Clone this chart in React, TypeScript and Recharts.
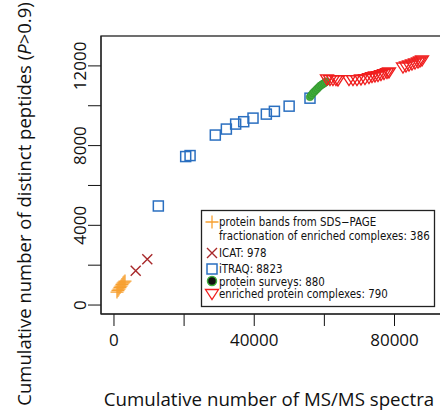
import React from "react";
import { ScatterChart, Scatter, XAxis, YAxis } from "recharts";

// protein bands from SDS-PAGE fractionation of enriched complexes
const bandsX = [860, 1140, 1430, 1710, 2000, 2280, 2570, 2850, 3140];
const bandsY = [650, 730, 800, 880, 950, 1030, 1100, 1150, 1200];

// ICAT
const icatX = [6200, 9500];
const icatY = [1720, 2300];

// iTRAQ
const itraqX = [12650, 20450, 21700, 28900, 32050, 34700, 37000, 39650, 43450, 45750, 49950, 55900];
const itraqY = [4970, 7450, 7500, 8530, 8830, 9080, 9200, 9380, 9580, 9720, 9980, 10380];

// protein surveys
const surveysX = [55890, 56320, 56750, 57180, 57610, 58030, 58460, 58890, 59320, 59750, 60170, 60600];
const surveysY = [10440, 10540, 10640, 10710, 10790, 10860, 10940, 11010, 11060, 11110, 11160, 11220];

// enriched protein complexes
const complexesX = [
  60740, 61600, 62450, 63310, 63880,
  67020, 68160, 69300, 70440, 71580, 72720, 73580, 74430, 75290, 76140, 77000, 77850, 78420,
  82420, 83270, 84130, 84980, 85840, 86700, 87270, 87840,
];
const complexesY = [
  11370, 11340, 11340, 11340, 11320,
  11340, 11340, 11340, 11370, 11390, 11440, 11490, 11520, 11540, 11590, 11640, 11690, 11720,
  11970, 12020, 12070, 12120, 12170, 12220, 12270, 12320,
];

const xTicks = [0, 20000, 40000, 60000, 80000];
const xLabelled = [0, 40000, 80000];
const yTicks = [0, 2000, 4000, 6000, 8000, 10000, 12000];
const yLabelled = [0, 4000, 8000, 12000];

const legendLines = [
  "protein bands from SDS\u2212PAGE",
  "fractionation of enriched complexes: 386",
  "ICAT: 978",
  "iTRAQ: 8823",
  "protein surveys: 880",
  "enriched protein complexes: 790",
];

const ORANGE = "#f7a030";
const BROWN = "#a8282a";
const BLUE = "#2a6fc0";
const GREEN = "#3fae3a";
const RED = "#f01e1e";

const AXIS_FONT = "'Open Sans', sans-serif";
const LEGEND_FONT = "'DejaVu Sans Condensed', 'Liberation Sans', Arial, sans-serif";

const zip = (xs: number[], ys: number[]) => xs.map((x, i) => ({ x, y: ys[i] }));

const Plus = ({ cx, cy }: any) => (
  <path d={`M${cx - 6.5},${cy}H${cx + 6.5}M${cx},${cy - 6.5}V${cy + 6.5}`} stroke={ORANGE} strokeWidth={1.3} fill="none" />
);
const Cross = ({ cx, cy }: any) => (
  <path d={`M${cx - 5},${cy - 5}L${cx + 5},${cy + 5}M${cx - 5},${cy + 5}L${cx + 5},${cy - 5}`} stroke={BROWN} strokeWidth={1.4} fill="none" />
);
const Square = ({ cx, cy }: any) => (
  <rect x={cx - 5} y={cy - 5} width={10} height={10} stroke={BLUE} strokeWidth={1.5} fill="none" />
);
const Dot = ({ cx, cy }: any) => (
  <circle cx={cx} cy={cy} r={3.8} fill={GREEN} stroke="#2f8a2b" strokeWidth={0.5} />
);
const Tri = ({ cx, cy }: any) => (
  <path d={`M${cx - 6.5},${cy - 3.5}L${cx + 6.5},${cy - 3.5}L${cx},${cy + 6.5}Z`} stroke={RED} strokeWidth={1.3} fill="none" />
);

const XTick = ({ x, y, payload }: any) =>
  xLabelled.includes(payload.value) ? (
    <text x={x} y={y + 18} textAnchor="middle" fontSize={17} fontFamily={AXIS_FONT} fill="#111">
      {payload.value}
    </text>
  ) : null;

const YTick = ({ x, y, payload }: any) =>
  yLabelled.includes(payload.value) ? (
    <text
      x={0}
      y={0}
      transform={`translate(${x},${y}) rotate(-90)`}
      textAnchor="middle"
      fontSize={17}
      fontFamily={AXIS_FONT}
      fill="#111"
    >
      {payload.value}
    </text>
  ) : null;

export default function App() {
  return (
    <div style={{ position: "relative", width: 440, height: 410, overflow: "hidden", background: "#fff" }}>
      <style>{`body{margin:0}`}</style>
      <ScatterChart width={450} height={410} margin={{ top: 36, right: 5, bottom: 56, left: 61 }}>
        <XAxis
          dataKey="x"
          type="number"
          domain={[-3700, 94400]}
          ticks={xTicks}
          tick={<XTick />}
          tickSize={12}
          height={40}
          stroke="#111"
          allowDataOverflow
        />
        <YAxis
          dataKey="y"
          type="number"
          domain={[-450, 13500]}
          ticks={yTicks}
          tick={<YTick />}
          tickSize={13}
          width={40}
          stroke="#111"
          allowDataOverflow
        />
        <Scatter data={zip(bandsX, bandsY)} shape={<Plus />} isAnimationActive={false} />
        <Scatter data={zip(icatX, icatY)} shape={<Cross />} isAnimationActive={false} />
        <Scatter data={zip(itraqX, itraqY)} shape={<Square />} isAnimationActive={false} />
        <Scatter data={zip(surveysX, surveysY)} shape={<Dot />} isAnimationActive={false} />
        <Scatter data={zip(complexesX, complexesY)} shape={<Tri />} isAnimationActive={false} />
      </ScatterChart>
      <svg width={440} height={410} style={{ position: "absolute", left: 0, top: 0, pointerEvents: "none" }}>
        <rect x={101} y={36} width={344} height={278} fill="none" stroke="#222" strokeWidth={1.3} />
        <text
          transform="translate(31,204) rotate(-90)"
          textAnchor="middle"
          fontSize={18.5}
          fontFamily={AXIS_FONT}
          fill="#111"
        >
          Cumulative number of distinct peptides (<tspan fontStyle="italic">P</tspan>&gt;0.9)
        </text>
        <text x={269} y={406} textAnchor="middle" fontSize={18.7} fontFamily={AXIS_FONT} fill="#111">
          Cumulative number of MS/MS spectra
        </text>
        <rect x={201.5} y={210.5} width={233} height={96} fill="#fff" stroke="#222" strokeWidth={1.3} />
        <Plus cx={212} cy={222} />
        <Cross cx={212} cy={253} />
        <Square cx={212} cy={269} />
        <circle cx={212} cy={281} r={4.5} fill="#111" stroke={GREEN} strokeWidth={1.5} />
        <Tri cx={212} cy={293} />
        {legendLines.map((t, i) => (
          <text
            key={t}
            x={219}
            y={[226, 240, 257, 272.5, 285.5, 298][i]}
            fontSize={11.4}
            fontFamily={LEGEND_FONT}
            fill="#111"
          >
            {t}
          </text>
        ))}
      </svg>
    </div>
  );
}
